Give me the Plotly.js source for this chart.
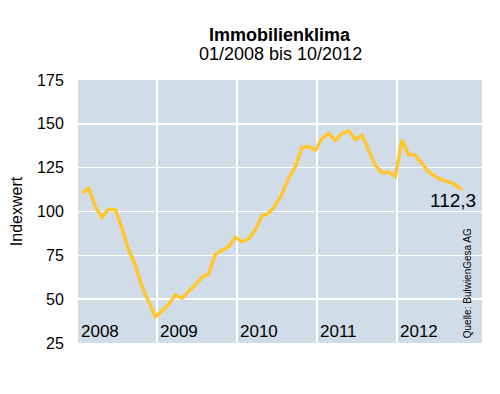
<!DOCTYPE html>
<html>
<head>
<meta charset="utf-8">
<script src="https://cdn.plot.ly/plotly-3.0.1.min.js"></script>
<style>html,body{margin:0;padding:0;background:#fff;}#chart{width:500px;height:394px;}</style>
</head>
<body>
<div id="chart"></div>
<script>
// Monthly index values, 01/2008 .. 10/2012
const months = [];
for (let y = 2008; y <= 2012; y++) for (let m = 1; m <= 12; m++) months.push(String(m).padStart(2,'0') + '/' + y);
const monthLabels = months.slice(0, 58);
const values = [
  110.5, 113.2, 102.7, 96.7, 101.3, 101.0, 90.4, 78.0, 69.5, 57.1, 48.6, 40.0,
  43.2, 47.0, 52.4, 50.5, 54.5, 58.0, 62.5, 64.4, 75.6, 78.0, 80.0, 85.3,
  82.8, 84.3, 89.5, 97.5, 99.0, 103.5, 110.0, 119.0, 125.5, 136.5, 137.0, 135.0,
  141.5, 144.5, 140.5, 144.5, 146.0, 141.0, 143.5, 135.0, 126.5, 122.0, 122.5, 120.0,
  140.8, 132.5, 132.2, 127.5, 122.5, 120.0, 118.0, 117.0, 115.2, 112.3
];
const years = ['2008', '2009', '2010', '2011', '2012'];
const yTicks = [25, 50, 75, 100, 125, 150, 175];
const lastLabel = '112,3';
const titleText = 'Immobilienklima';
const subtitleText = '01/2008 bis 10/2012';
const sourceText = 'Quelle: BulwienGesa AG';

const idx = monthLabels.map((_, i) => i);
const yearBoundaries = years.slice(1).map((_, k) => 11.25 + 12 * k);

const font = 'Liberation Sans, Arial, sans-serif';
const annotations = years.map((yr, k) => ({
  x: (k === 0 ? -0.6 : yearBoundaries[k - 1]) + 0.2,
  y: 31.3, xref: 'x', yref: 'y', xanchor: 'left', yanchor: 'middle',
  text: yr, showarrow: false, font: {family: font, size: 17, color: '#000'}
}));
annotations.push({
  x: idx[idx.length - 1] - 1.3, y: 106,
  xref: 'x', yref: 'y', xanchor: 'center', yanchor: 'middle',
  text: lastLabel, showarrow: false, font: {family: font, size: 19, color: '#000'}
});
annotations.push({
  x: 0.965, y: 59, xref: 'paper', yref: 'y', xanchor: 'center', yanchor: 'middle',
  text: sourceText, textangle: -90, showarrow: false,
  font: {family: font, size: 10, color: '#000'}
});
annotations.push({
  x: 0.5, y: (343 - 35) / 263, xref: 'paper', yref: 'paper', xanchor: 'center', yanchor: 'middle',
  text: '<b>' + titleText + '</b>', showarrow: false,
  font: {family: font, size: 18, color: '#000'}
});
annotations.push({
  x: 0.5, y: (343 - 54.5) / 263, xref: 'paper', yref: 'paper', xanchor: 'center', yanchor: 'middle',
  text: subtitleText, showarrow: false,
  font: {family: font, size: 18, color: '#000'}
});

Plotly.newPlot('chart', [{
  x: idx, y: values, customdata: monthLabels, type: 'scatter', mode: 'lines',
  line: {color: '#ffc72c', width: 3.5}, hovertemplate: '%{customdata}: %{y}<extra></extra>'
}], {
  width: 500, height: 394,
  margin: {l: 78, r: 18, t: 80, b: 51},
  paper_bgcolor: '#fff', plot_bgcolor: '#d1dce9',
  showlegend: false,
  xaxis: {range: [-0.6, 60.0], tickvals: yearBoundaries, showticklabels: false,
          showgrid: true, gridcolor: '#fff', gridwidth: 1.5, zeroline: false, showline: false, ticks: ''},
  yaxis: {range: [25, 175], tickvals: yTicks, showgrid: true, gridcolor: '#fff', gridwidth: 1.5,
          zeroline: false, showline: false, ticks: 'outside', ticklen: 10, tickcolor: 'rgba(0,0,0,0)',
          tickfont: {family: font, size: 16, color: '#000'},
          title: {text: 'Indexwert', font: {family: font, size: 16, color: '#000'}, standoff: 10}},
  annotations: annotations
}, {staticPlot: true});
</script>
</body>
</html>
